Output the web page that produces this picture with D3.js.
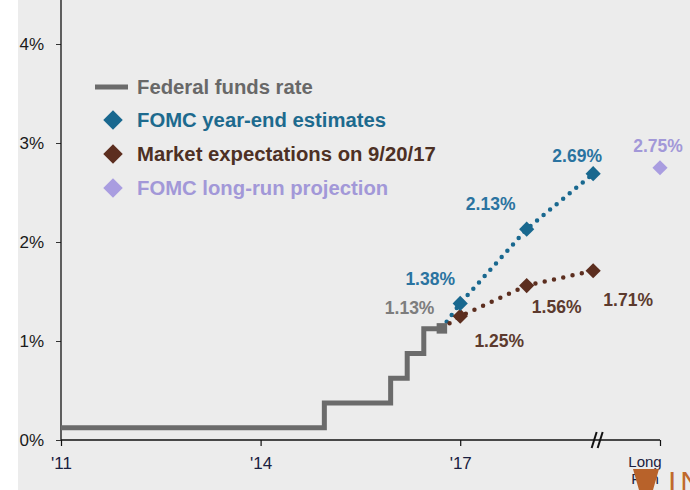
<!DOCTYPE html>
<html>
<head>
<meta charset="utf-8">
<script src="https://cdn.jsdelivr.net/npm/d3@7"></script>
<style>
  body { margin: 0; background: #fff; }
  svg { display: block; }
  text { font-family: "Liberation Sans", Arial, sans-serif; }
</style>
</head>
<body>
<svg id="chart" width="690" height="490"></svg>
<script>
// Federal funds rate (mid-point of target range) at each change
const fedDates = ["2011-12-31", "2015-12-16", "2016-12-14", "2017-03-15", "2017-06-14", "2017-09-20"];
const fedRates = [0.125, 0.375, 0.625, 0.875, 1.125, 1.125];

// Year-end projections
const projDates = ["2017-12-31", "2018-12-31", "2019-12-31"];
const fomcValues = [1.38, 2.13, 2.69];
const marketValues = [1.25, 1.56, 1.71];
const longRunValue = 2.75;

// Axis ticks
const yTicks = [0, 1, 2, 3, 4];
const xTickDates = ["2011-12-31", "2014-12-31", "2017-12-31"];
const xTickLabels = ["'11", "'14", "'17"];
const longRunLabel = ["Long", "Run"];

const legendLabels = [
  "Federal funds rate",
  "FOMC year-end estimates",
  "Market expectations on 9/20/17",
  "FOMC long-run projection"
];

const parse = d3.timeParse("%Y-%m-%d");
const pct = d3.format(".2f");

const C = {
  fed: "#6b6b6b", fedText: "#686868", fedLabel: "#7d7d7d",
  fomc: "#19688f", fomcText: "#1d6a8e", fomcLabel: "#2a73a0",
  mkt: "#5c2e1f", mktText: "#4d3024", mktLabel: "#5c3a2e",
  lr: "#a99de0", lrText: "#a298d8"
};

const svg = d3.select("#chart");

// panel background
svg.append("rect").attr("x", 18).attr("y", 0).attr("width", 672).attr("height", 490).attr("fill", "#ececec");

const x = d3.scaleTime()
  .domain([parse("2011-12-31"), parse("2021-01-01")])
  .range([61, 660]);
const y = d3.scaleLinear().domain([0, 4]).range([440, 44]);
const xLong = x.range()[1];

// ---- axes ----
const yAxis = d3.axisLeft(y)
  .tickValues(yTicks)
  .tickFormat(d => d + "%")
  .tickSize(5)
  .tickPadding(12);
const gy = svg.append("g").attr("transform", `translate(${x.range()[0]},0)`).call(yAxis);
gy.select(".domain").remove();
gy.selectAll("text").attr("font-size", 17).attr("fill", "#1a1a1a");
gy.selectAll("line").attr("stroke", "#333");

svg.append("line")
  .attr("x1", x.range()[0]).attr("x2", x.range()[0])
  .attr("y1", 0).attr("y2", y(0))
  .attr("stroke", "#111").attr("stroke-width", 1.3);

const xAxis = d3.axisBottom(x)
  .tickValues(xTickDates.map(parse).concat([x.domain()[1]]))
  .tickFormat((d, i) => i < xTickLabels.length ? xTickLabels[i] : "")
  .tickSize(6)
  .tickPadding(11);
const gx = svg.append("g").attr("transform", `translate(0,${y(0)})`).call(xAxis);
gx.select(".domain").remove();
gx.selectAll("text").attr("font-size", 17).attr("fill", "#1a2040");
gx.selectAll("line").attr("stroke", "#111").attr("stroke-width", 1.2);

svg.append("line")
  .attr("x1", x.range()[0]).attr("x2", xLong)
  .attr("y1", y(0)).attr("y2", y(0))
  .attr("stroke", "#111").attr("stroke-width", 1.3);

// axis break between the dated years and the long run
const breakX = x(parse(projDates[projDates.length - 1])) + 4;
[[-5.5, -0.5], [0.5, 5.5]].forEach(([a, b]) => {
  svg.append("line")
    .attr("x1", breakX + a).attr("y1", y(0) + 8)
    .attr("x2", breakX + b).attr("y2", y(0) - 8)
    .attr("stroke", "#111").attr("stroke-width", 2);
});

// long-run tick label
const lrText = svg.append("text")
  .attr("x", xLong - 15).attr("y", 467)
  .attr("text-anchor", "middle")
  .attr("font-size", 15).attr("fill", "#1a2040");
longRunLabel.forEach((t, i) => lrText.append("tspan").attr("x", xLong - 15).attr("dy", i ? 17 : 0).text(t));

// ---- federal funds rate ----
const fed = fedDates.map((d, i) => ({ date: parse(d), v: fedRates[i] }));
svg.append("path")
  .datum(fed)
  .attr("fill", "none")
  .attr("stroke", C.fed)
  .attr("stroke-width", 5)
  .attr("d", d3.line().x(d => x(d.date)).y(d => y(d.v)).curve(d3.curveStepAfter));

const fedEnd = fed[fed.length - 1];

// ---- projection paths (dotted) ----
const fomc = projDates.map((d, i) => ({ date: parse(d), v: fomcValues[i] }));
const mkt = projDates.map((d, i) => ({ date: parse(d), v: marketValues[i] }));
const lineGen = d3.line().x(d => x(d.date)).y(d => y(d.v));

svg.append("path")
  .datum([fedEnd].concat(fomc))
  .attr("fill", "none").attr("stroke", C.fomc)
  .attr("stroke-width", 4.5).attr("stroke-linecap", "round")
  .attr("stroke-dasharray", "0 8.5")
  .attr("d", lineGen);

svg.append("path")
  .datum([fedEnd].concat(mkt))
  .attr("fill", "none").attr("stroke", C.mkt)
  .attr("stroke-width", 4.5).attr("stroke-linecap", "round")
  .attr("stroke-dasharray", "0 9.5")
  .attr("d", lineGen);

// ---- markers ----
svg.append("rect")
  .attr("x", x(fedEnd.date) - 5).attr("y", y(fedEnd.v) - 5.5)
  .attr("width", 10.5).attr("height", 10.5)
  .attr("fill", C.fed);

const diamond = d3.symbol().type(d3.symbolSquare).size(115);
function drawDiamonds(data, color) {
  svg.append("g").selectAll("path")
    .data(data).join("path")
    .attr("d", diamond)
    .attr("fill", color)
    .attr("transform", d => `translate(${d.x},${d.y}) rotate(45)`);
}
drawDiamonds(mkt.map(d => ({ x: x(d.date), y: y(d.v) })), C.mkt);
drawDiamonds(fomc.map(d => ({ x: x(d.date), y: y(d.v) })), C.fomc);
drawDiamonds([{ x: xLong, y: y(longRunValue) }], C.lr);

// ---- value labels ----
function label(px, py, text, color) {
  svg.append("text")
    .attr("x", px).attr("y", py)
    .attr("text-anchor", "middle")
    .attr("font-size", 17.5).attr("font-weight", "bold")
    .attr("fill", color)
    .text(text);
}
const fomcOffsets = [[-30, -18], [-36, -19], [-16, -12]];
const mktOffsets = [[39, 31], [30, 27], [35, 35]];
fomc.forEach((d, i) => label(x(d.date) + fomcOffsets[i][0], y(d.v) + fomcOffsets[i][1], pct(d.v) + "%", C.fomcLabel));
mkt.forEach((d, i) => label(x(d.date) + mktOffsets[i][0], y(d.v) + mktOffsets[i][1], pct(d.v) + "%", C.mktLabel));
label(x(fedEnd.date) - 32, y(fedEnd.v) - 15, pct(fedEnd.v) + "%", C.fedLabel);
label(xLong - 2, y(longRunValue) - 16, pct(longRunValue) + "%", C.lrText);

// ---- legend ----
const legend = svg.append("g").attr("transform", "translate(95,0)");
const legendRows = [94, 127, 161, 195];
const legendColors = [C.fed, C.fomc, C.mkt, C.lr];
const legendTextColors = [C.fedText, C.fomcText, C.mktText, C.lrText];
legendLabels.forEach((t, i) => {
  const cy = legendRows[i] - 7;
  if (i === 0) {
    legend.append("line").attr("x1", 0).attr("x2", 33).attr("y1", cy).attr("y2", cy)
      .attr("stroke", legendColors[i]).attr("stroke-width", 5);
  } else {
    legend.append("path").attr("d", d3.symbol().type(d3.symbolSquare).size(190))
      .attr("fill", legendColors[i])
      .attr("transform", `translate(18,${cy}) rotate(45)`);
  }
  legend.append("text")
    .attr("x", 42).attr("y", legendRows[i])
    .attr("font-size", 20.3).attr("font-weight", "bold")
    .attr("fill", legendTextColors[i])
    .text(t);
});

// ---- corner mark ----
svg.append("path")
  .attr("d", "M633,469 L659,469 L653,490 L639,490 Z")
  .attr("fill", "#b8622a");
svg.append("text")
  .attr("x", 668).attr("y", 492)
  .attr("font-size", 30).attr("letter-spacing", 4)
  .attr("fill", "#c06a2c")
  .text("IN");
</script>
</body>
</html>
